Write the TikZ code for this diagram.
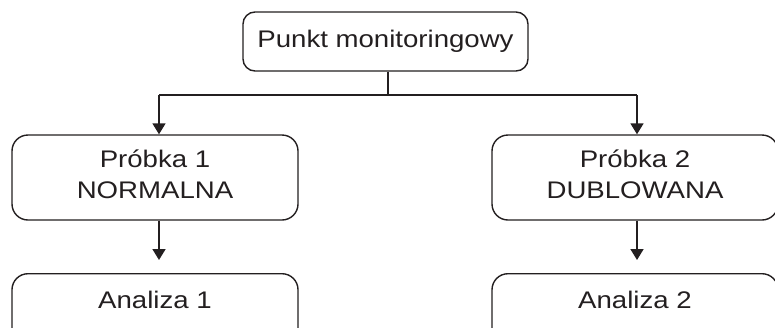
\documentclass[tikz,border=0pt]{standalone}
\usepackage{fontspec}
\setmainfont[FakeStretch=1.15]{Liberation Sans}
\usetikzlibrary{arrows.meta}
\definecolor{ink}{HTML}{231F20}
\begin{document}
\begin{tikzpicture}[x=1pt,y=-1pt,
  every node/.style={font=\fontsize{24}{31}\selectfont, text=ink},
  box/.style={draw=ink, line width=1.4pt, rounded corners=14pt, fill=white,
    minimum width=286pt, inner xsep=0pt, align=center},
  link/.style={draw=ink, line width=1.7pt},
  arr/.style={link, -{Triangle[length=11pt,width=13pt]}}]
  \useasboundingbox (0,0) rectangle (775,327);
  \clip (0,0) rectangle (775,327);

  % top box
  \node[box, minimum width=285pt, minimum height=59pt, rounded corners=12pt]
    (top) at (385.5,41.5) {Punkt monitoringowy};

  % sample boxes
  \node[box, minimum height=85pt, text depth=7pt, rounded corners=16pt]
    (p1) at (155,177.5) {Próbka 1\\NORMALNA};
  \node[box, minimum height=85pt, text depth=7pt, rounded corners=16pt]
    (p2) at (635,177.5) {Próbka 2\\DUBLOWANA};

  % analysis boxes (running off the bottom edge)
  \node[box, anchor=north, text height=17pt, text depth=40pt, inner ysep=18pt,
    rounded corners=16pt] (a1) at (155,273) {Analiza 1};
  \node[box, anchor=north, text height=17pt, text depth=40pt, inner ysep=18pt,
    rounded corners=16pt] (a2) at (635,273) {Analiza 2};

  % branch points
  \coordinate (jm) at (388,95);
  \coordinate (jl) at (159,95);
  \coordinate (jr) at (637,95);

  \draw[link] (jm |- top.south) -- (jm);
  \draw[link] (jl) -- (jr);
  \draw[arr] (jl) -- (jl |- p1.north);
  \draw[arr] (jr) -- (jr |- p2.north);
  \draw[arr, shorten >=13pt] (jl |- p1.south) -- (jl |- a1.north);
  \draw[arr, shorten >=13pt] (jr |- p2.south) -- (jr |- a2.north);
\end{tikzpicture}
\end{document}
